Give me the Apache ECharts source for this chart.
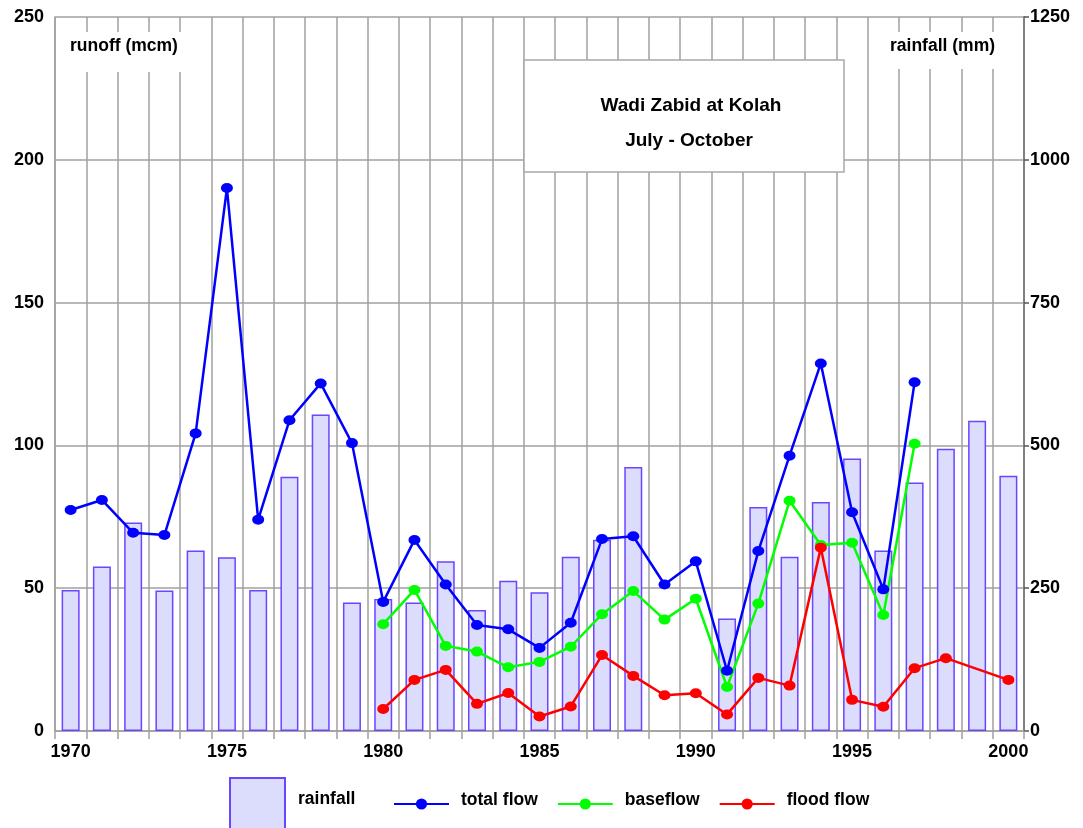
<!DOCTYPE html>
<html>
<head>
<meta charset="utf-8">
<script src="https://cdn.jsdelivr.net/npm/echarts@6/dist/echarts.min.js"></script>
<style>
html,body{margin:0;padding:0;background:#fff;}
#chart{width:1083px;height:828px;}
</style>
</head>
<body>
<div id="chart"></div>
<script>
const years = ['1970','1971','1972','1973','1974','1975','1976','1977','1978','1979','1980','1981','1982','1983','1984','1985','1986','1987','1988','1989','1990','1991','1992','1993','1994','1995','1996','1997','1998','1999','2000'];
const rainfall = [247,288,365,246,316,304,247,445,554,225,231,225,297,212,263,243,305,335,462,null,null,197,392,305,401,477,316,435,494,543,447];
const totalFlow = [77.4,80.9,69.4,68.6,104.2,190.1,74.0,108.8,121.7,100.8,45.2,66.9,51.3,37.1,35.6,29.1,37.9,67.2,68.2,51.3,59.4,21.1,63.0,96.4,128.7,76.6,49.6,122.1,null,null,null];
const baseflow = [null,null,null,null,null,null,null,null,null,null,37.4,49.4,29.8,27.8,22.3,24.2,29.5,40.9,49.0,39.0,46.3,15.4,44.6,80.6,65.1,65.9,40.6,100.6,null,null,null];
const floodFlow = [null,null,null,null,null,null,null,null,null,null,7.7,17.9,21.4,9.5,13.3,5.1,8.6,26.6,19.3,12.5,13.2,5.8,18.6,15.9,64.2,10.9,8.5,22.0,25.5,null,17.9];
const leftTicks = {min:0, max:250, interval:50};
const rightTicks = {min:0, max:1250, interval:250};

const FONT = 'Arial, "Liberation Sans", sans-serif';
const GRID = '#a0a0a0';
const chart = echarts.init(document.getElementById('chart'), null, {renderer:'canvas'});

const lineSeries = (name, data, color) => ({
  name, type:'line', yAxisIndex:0, data,
  symbol:'circle', symbolSize:[12,10],
  lineStyle:{color, width:2.5},
  itemStyle:{color},
  connectNulls:true,
  z:3
});

const legendText = (padLeft, lift) => ({
  fontWeight:'bold', fontSize:17.5, fontFamily:FONT, color:'#000', padding:[0,0,0,padLeft],
  rich:{
    a:{fontWeight:'bold', fontSize:17.5, fontFamily:FONT, color:'#000', lineHeight:20},
    b:{fontSize:1, lineHeight:lift}
  }
});

chart.setOption({
  animation:false,
  backgroundColor:'#fff',
  textStyle:{fontFamily:FONT},
  grid:{left:55, right:59, top:17, bottom:97, containLabel:false},
  xAxis:{
    type:'category', data:years, boundaryGap:true,
    axisLine:{show:true, lineStyle:{color:GRID, width:1.5}},
    axisTick:{show:true, interval:0, length:8, lineStyle:{color:GRID, width:1.5}},
    axisLabel:{interval:4, margin:12, color:'#000', fontWeight:'bold', fontSize:18, fontFamily:FONT},
    splitLine:{show:true, interval:0, lineStyle:{color:GRID, width:1.5}}
  },
  yAxis:[
    {type:'value', min:leftTicks.min, max:leftTicks.max, interval:leftTicks.interval, position:'left',
     axisLine:{show:true, lineStyle:{color:GRID, width:1.5}},
     axisTick:{show:false},
     axisLabel:{margin:11, color:'#000', fontWeight:'bold', fontSize:18, fontFamily:FONT},
     splitLine:{show:true, lineStyle:{color:GRID, width:1.5}}},
    {type:'value', min:rightTicks.min, max:rightTicks.max, interval:rightTicks.interval, position:'right',
     axisLine:{show:true, lineStyle:{color:'#808080', width:2}},
     axisTick:{show:true, length:5, inside:false, lineStyle:{color:'#555', width:1.5}},
     axisLabel:{margin:6, color:'#000', fontWeight:'bold', fontSize:18, fontFamily:FONT, formatter:v => String(v)},
     splitLine:{show:false}}
  ],
  legend:[
    {data:[{name:'rainfall', icon:'rect'}], left:224, top:772, itemWidth:55, itemHeight:55,
     formatter:n => '{a|' + n + '}\n{b| }',
     textStyle:legendText(8, 12)},
    {data:['total flow','baseflow','flood flow'], left:388, top:786, itemWidth:55, itemHeight:14, itemGap:19,
     formatter:n => '{a|' + n + '}\n{b| }',
     textStyle:legendText(7, 8)}
  ],
  series:[
    {name:'rainfall', type:'bar', yAxisIndex:1, data:rainfall, barWidth:18,
     itemStyle:{color:'#dcdcfd', borderColor:'#6a46ff', borderWidth:1.5}, z:2},
    lineSeries('total flow', totalFlow, '#0000ff'),
    lineSeries('baseflow', baseflow, '#00ff00'),
    lineSeries('flood flow', floodFlow, '#ff0000')
  ],
  graphic:[
    {type:'rect', z:100, shape:{x:56, y:32, width:138, height:40}, style:{fill:'#fff'}},
    {type:'text', z:101, x:70, y:46, style:{text:'runoff (mcm)', font:'bold 17.5px '+FONT, fill:'#000', verticalAlign:'middle'}},
    {type:'rect', z:100, shape:{x:870, y:32, width:153, height:37}, style:{fill:'#fff'}},
    {type:'text', z:101, x:890, y:46, style:{text:'rainfall (mm)', font:'bold 17.5px '+FONT, fill:'#000', verticalAlign:'middle'}},
    {type:'rect', z:100, shape:{x:524, y:60, width:320, height:112}, style:{fill:'#fff', stroke:'#a8a8a8', lineWidth:1.5}},
    {type:'text', z:101, x:691, y:106, style:{text:'Wadi Zabid at Kolah', font:'bold 19px '+FONT, fill:'#000', align:'center', verticalAlign:'middle'}},
    {type:'text', z:101, x:689, y:141, style:{text:'July - October', font:'bold 19px '+FONT, fill:'#000', align:'center', verticalAlign:'middle'}}
  ]
});
</script>
</body>
</html>
